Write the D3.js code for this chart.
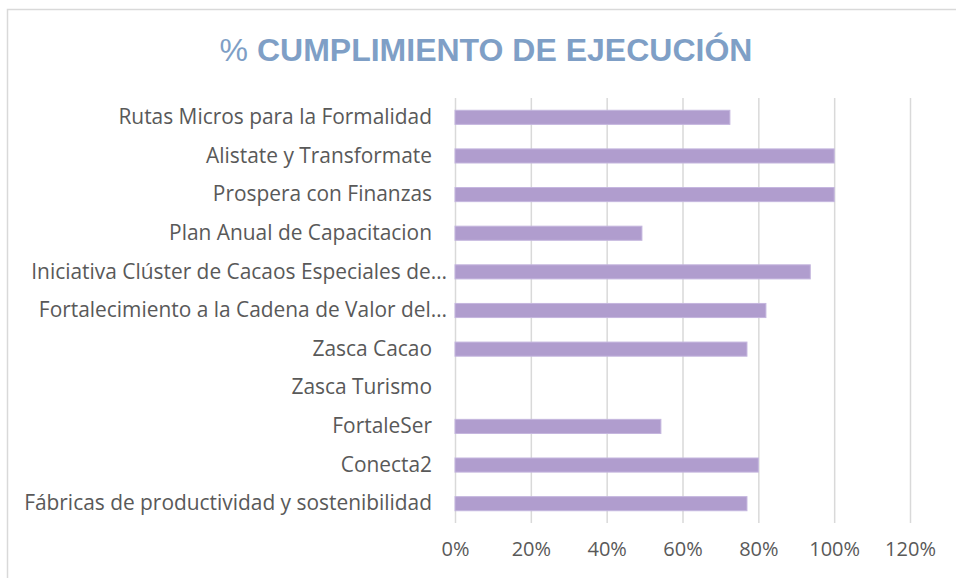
<html>
<head>
<script src="https://cdnjs.cloudflare.com/ajax/libs/d3/7.8.5/d3.min.js"></script>
<style>
  body { margin: 0; background: #fff; }
  .grid line { stroke: #d9d9d9; stroke-width: 1.5; }
  .grid path { display: none; }
  .cat text { fill: #595959; font-family: "Open Sans", sans-serif; }
  .xax text { fill: #595959; font-family: "Open Sans", sans-serif; }
  .bar { fill: #b09dce; stroke: #c4b6de; stroke-width: 1; }
</style>
</head>
<body>
<svg id="chart" width="956" height="578"></svg>
<script>
  var categories = [
    "Rutas Micros para la Formalidad",
    "Alistate y Transformate",
    "Prospera con Finanzas ",
    "Plan Anual de Capacitacion",
    "Iniciativa Clúster de Cacaos Especiales de…",
    "Fortalecimiento a la Cadena de Valor del…",
    "Zasca Cacao",
    "Zasca Turismo",
    "FortaleSer",
    "Conecta2",
    "Fábricas de productividad y sostenibilidad"
  ];
  var cumplimiento = [0.725, 1.0, 1.0, 0.493, 0.937, 0.82, 0.77, 0, 0.543, 0.80, 0.77];
  var ticks = [0, 0.2, 0.4, 0.6, 0.8, 1.0, 1.2];

  var svg = d3.select("#chart");

  // chart frame
  svg.append("rect")
    .attr("x", 7.5).attr("y", 9.5)
    .attr("width", 980).attr("height", 600)
    .attr("fill", "none").attr("stroke", "#d9d9d9").attr("stroke-width", 1.5);

  svg.append("text")
    .attr("x", 486).attr("y", 61)
    .attr("text-anchor", "middle")
    .attr("font-family", "Liberation Sans, Arial, sans-serif")
    .attr("font-size", 32)
    .attr("fill", "#7f9fc6")
    .html('<tspan font-weight="normal">%</tspan><tspan font-weight="bold"> CUMPLIMIENTO DE EJECUCIÓN</tspan>');

  var x = d3.scaleLinear().domain([0, 1.2]).range([455, 910]);
  var y = d3.scaleBand().domain(categories).range([98, 523]).paddingInner(0.635).paddingOuter(0.3175);

  svg.append("g")
    .attr("class", "grid")
    .attr("transform", "translate(0,523)")
    .call(d3.axisBottom(x).tickValues(ticks).tickSize(-425).tickFormat(""));

  svg.selectAll("rect.bar")
    .data(cumplimiento)
    .enter()
    .append("rect")
    .attr("class", "bar")
    .attr("x", x(0))
    .attr("y", (d, i) => y(categories[i]))
    .attr("height", y.bandwidth())
    .attr("width", d => x(d) - x(0))
    .style("display", d => d > 0 ? null : "none");

  var cat = svg.append("g")
    .attr("class", "cat")
    .attr("transform", "translate(455,0)")
    .call(d3.axisLeft(y).tickSize(0).tickPadding(23));
  cat.select("path").remove();
  cat.selectAll("text")
    .attr("font-size", 20.9)
    // truncated labels sit a bit closer to the axis
    .attr("dx", d => d.endsWith("…") ? 15 : 0);

  var xax = svg.append("g")
    .attr("class", "xax")
    .attr("transform", "translate(0,523)")
    .call(d3.axisBottom(x).tickValues(ticks).tickSize(0).tickPadding(19).tickFormat(d3.format(".0%")));
  xax.select("path").remove();
  xax.selectAll("text").attr("font-size", 20);
</script>
</body>
</html>
